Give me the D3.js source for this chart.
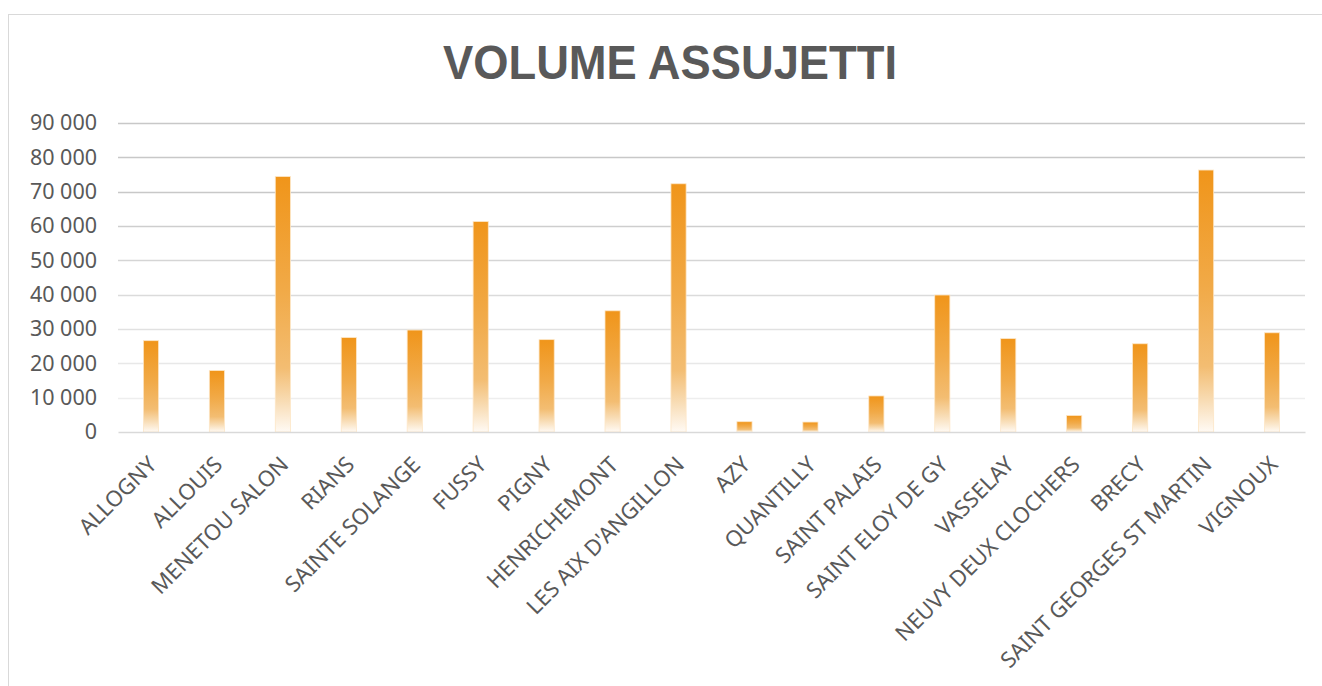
<!DOCTYPE html>
<html>
<head>
<meta charset="utf-8">
<script src="https://cdn.jsdelivr.net/npm/d3@7"></script>
<style>
  body { margin: 0; background: #fff; }
  svg { display: block; }
  .axis text { font-family: 'Noto Sans', sans-serif; fill: #595959; }
</style>
</head>
<body>
<div id="chart-area"></div>
<script>
// Data
let communes = ['ALLOGNY', 'ALLOUIS', 'MENETOU SALON', 'RIANS', 'SAINTE SOLANGE', 'FUSSY', 'PIGNY',
    'HENRICHEMONT', "LES AIX D'ANGILLON", 'AZY', 'QUANTILLY', 'SAINT PALAIS', 'SAINT ELOY DE GY',
    'VASSELAY', 'NEUVY DEUX CLOCHERS', 'BRECY', 'SAINT GEORGES ST MARTIN', 'VIGNOUX'];
let volumes = [26600, 17900, 74400, 27500, 29700, 61300, 26900, 35300, 72300,
    3000, 2900, 10500, 39900, 27200, 4800, 25700, 76300, 28900];
let yTicks = [0, 10000, 20000, 30000, 40000, 50000, 60000, 70000, 80000, 90000];
let chartTitle = 'VOLUME ASSUJETTI';

let svgWidth = 1322;
let svgHeight = 686;
let margin = { left: 118, right: 17, top: 123, bottom: 254 };
let width = svgWidth - margin.left - margin.right;
let height = svgHeight - margin.top - margin.bottom;

let svg = d3.select('#chart-area')
    .append('svg')
        .attr('width', svgWidth)
        .attr('height', svgHeight);

// Chart frame
svg.append('rect')
    .attr('x', 8.5)
    .attr('y', 14.5)
    .attr('width', 1400)
    .attr('height', 800)
    .attr('fill', '#fff')
    .attr('stroke', '#d9d9d9');

// Bar gradient
let defs = svg.append('defs');
let grad = defs.append('linearGradient')
    .attr('id', 'barGrad')
    .attr('x1', 0).attr('y1', 0)
    .attr('x2', 0).attr('y2', 1);
grad.append('stop').attr('offset', '0%').attr('stop-color', '#f0951a');
grad.append('stop').attr('offset', '45%').attr('stop-color', '#f1aa48');
grad.append('stop').attr('offset', '75%').attr('stop-color', '#f3bd72');
grad.append('stop').attr('offset', '88%').attr('stop-color', '#f8dcb4');
grad.append('stop').attr('offset', '100%').attr('stop-color', '#fffaf4');

let g = svg.append('g')
    .attr('transform', 'translate(' + margin.left + ',' + margin.top + ')');

// Title
svg.append('text')
    .attr('x', 670)
    .attr('y', 79)
    .attr('text-anchor', 'middle')
    .attr('font-family', '"Liberation Sans Narrow", "Liberation Sans", sans-serif')
    .attr('font-weight', 'bold')
    .attr('font-size', '48px')
    .attr('fill', '#595959')
    .attr('textLength', 454)
    .attr('lengthAdjust', 'spacingAndGlyphs')
    .text(chartTitle);

// Scales
let x = d3.scaleBand()
    .domain(communes)
    .range([0, width])
    .paddingInner(0.77)
    .paddingOuter(0.385);
let y = d3.scaleLinear()
    .domain([0, 90000])
    .range([height, 0]);
let gridColor = d3.scaleLinear()
    .domain([10000, 70000])
    .range(['#eeeeee', '#c8c8c8'])
    .clamp(true);

// Gridlines
g.selectAll('.grid')
    .data(yTicks.filter(function(d) { return d > 0; }))
    .enter()
    .append('line')
        .attr('class', 'grid')
        .attr('x1', 0)
        .attr('x2', width)
        .attr('y1', function(d) { return Math.round(y(d)) + 0.5; })
        .attr('y2', function(d) { return Math.round(y(d)) + 0.5; })
        .attr('stroke', function(d) { return gridColor(d); })
        .attr('stroke-width', 1.4);

// Y Axis
let yAxisCall = d3.axisLeft(y)
    .tickValues(yTicks)
    .tickSize(0)
    .tickPadding(21)
    .tickFormat(function(d) { return d3.format(',')(d).replace(/,/g, ' '); });
let yAxis = g.append('g')
    .attr('class', 'y axis')
    .call(yAxisCall);
yAxis.select('.domain').remove();
yAxis.selectAll('text')
    .style('font-size', '21.5px');

// Bars
g.selectAll('.bar')
    .data(volumes)
    .enter()
    .append('rect')
        .attr('class', 'bar')
        .attr('x', function(d, i) { return x(communes[i]); })
        .attr('y', function(d) { return y(d); })
        .attr('width', x.bandwidth())
        .attr('height', function(d) { return height - y(d); })
        .attr('fill', 'url(#barGrad)')
        .attr('stroke', '#fde6c6')
        .attr('stroke-width', 0.8);

// X Axis
let xAxisCall = d3.axisBottom(x)
    .tickSize(0)
    .tickPadding(0);
let xAxis = g.append('g')
    .attr('class', 'x axis')
    .attr('transform', 'translate(0,' + height + ')')
    .call(xAxisCall);
xAxis.select('.domain')
    .attr('stroke', '#d9d9d9')
    .attr('stroke-width', 1.6);
xAxis.selectAll('text')
    .style('font-size', '22px')
    .attr('text-anchor', 'end')
    .attr('dy', 0)
    .attr('transform', 'translate(7,34) rotate(-45)');
</script>
</body>
</html>
